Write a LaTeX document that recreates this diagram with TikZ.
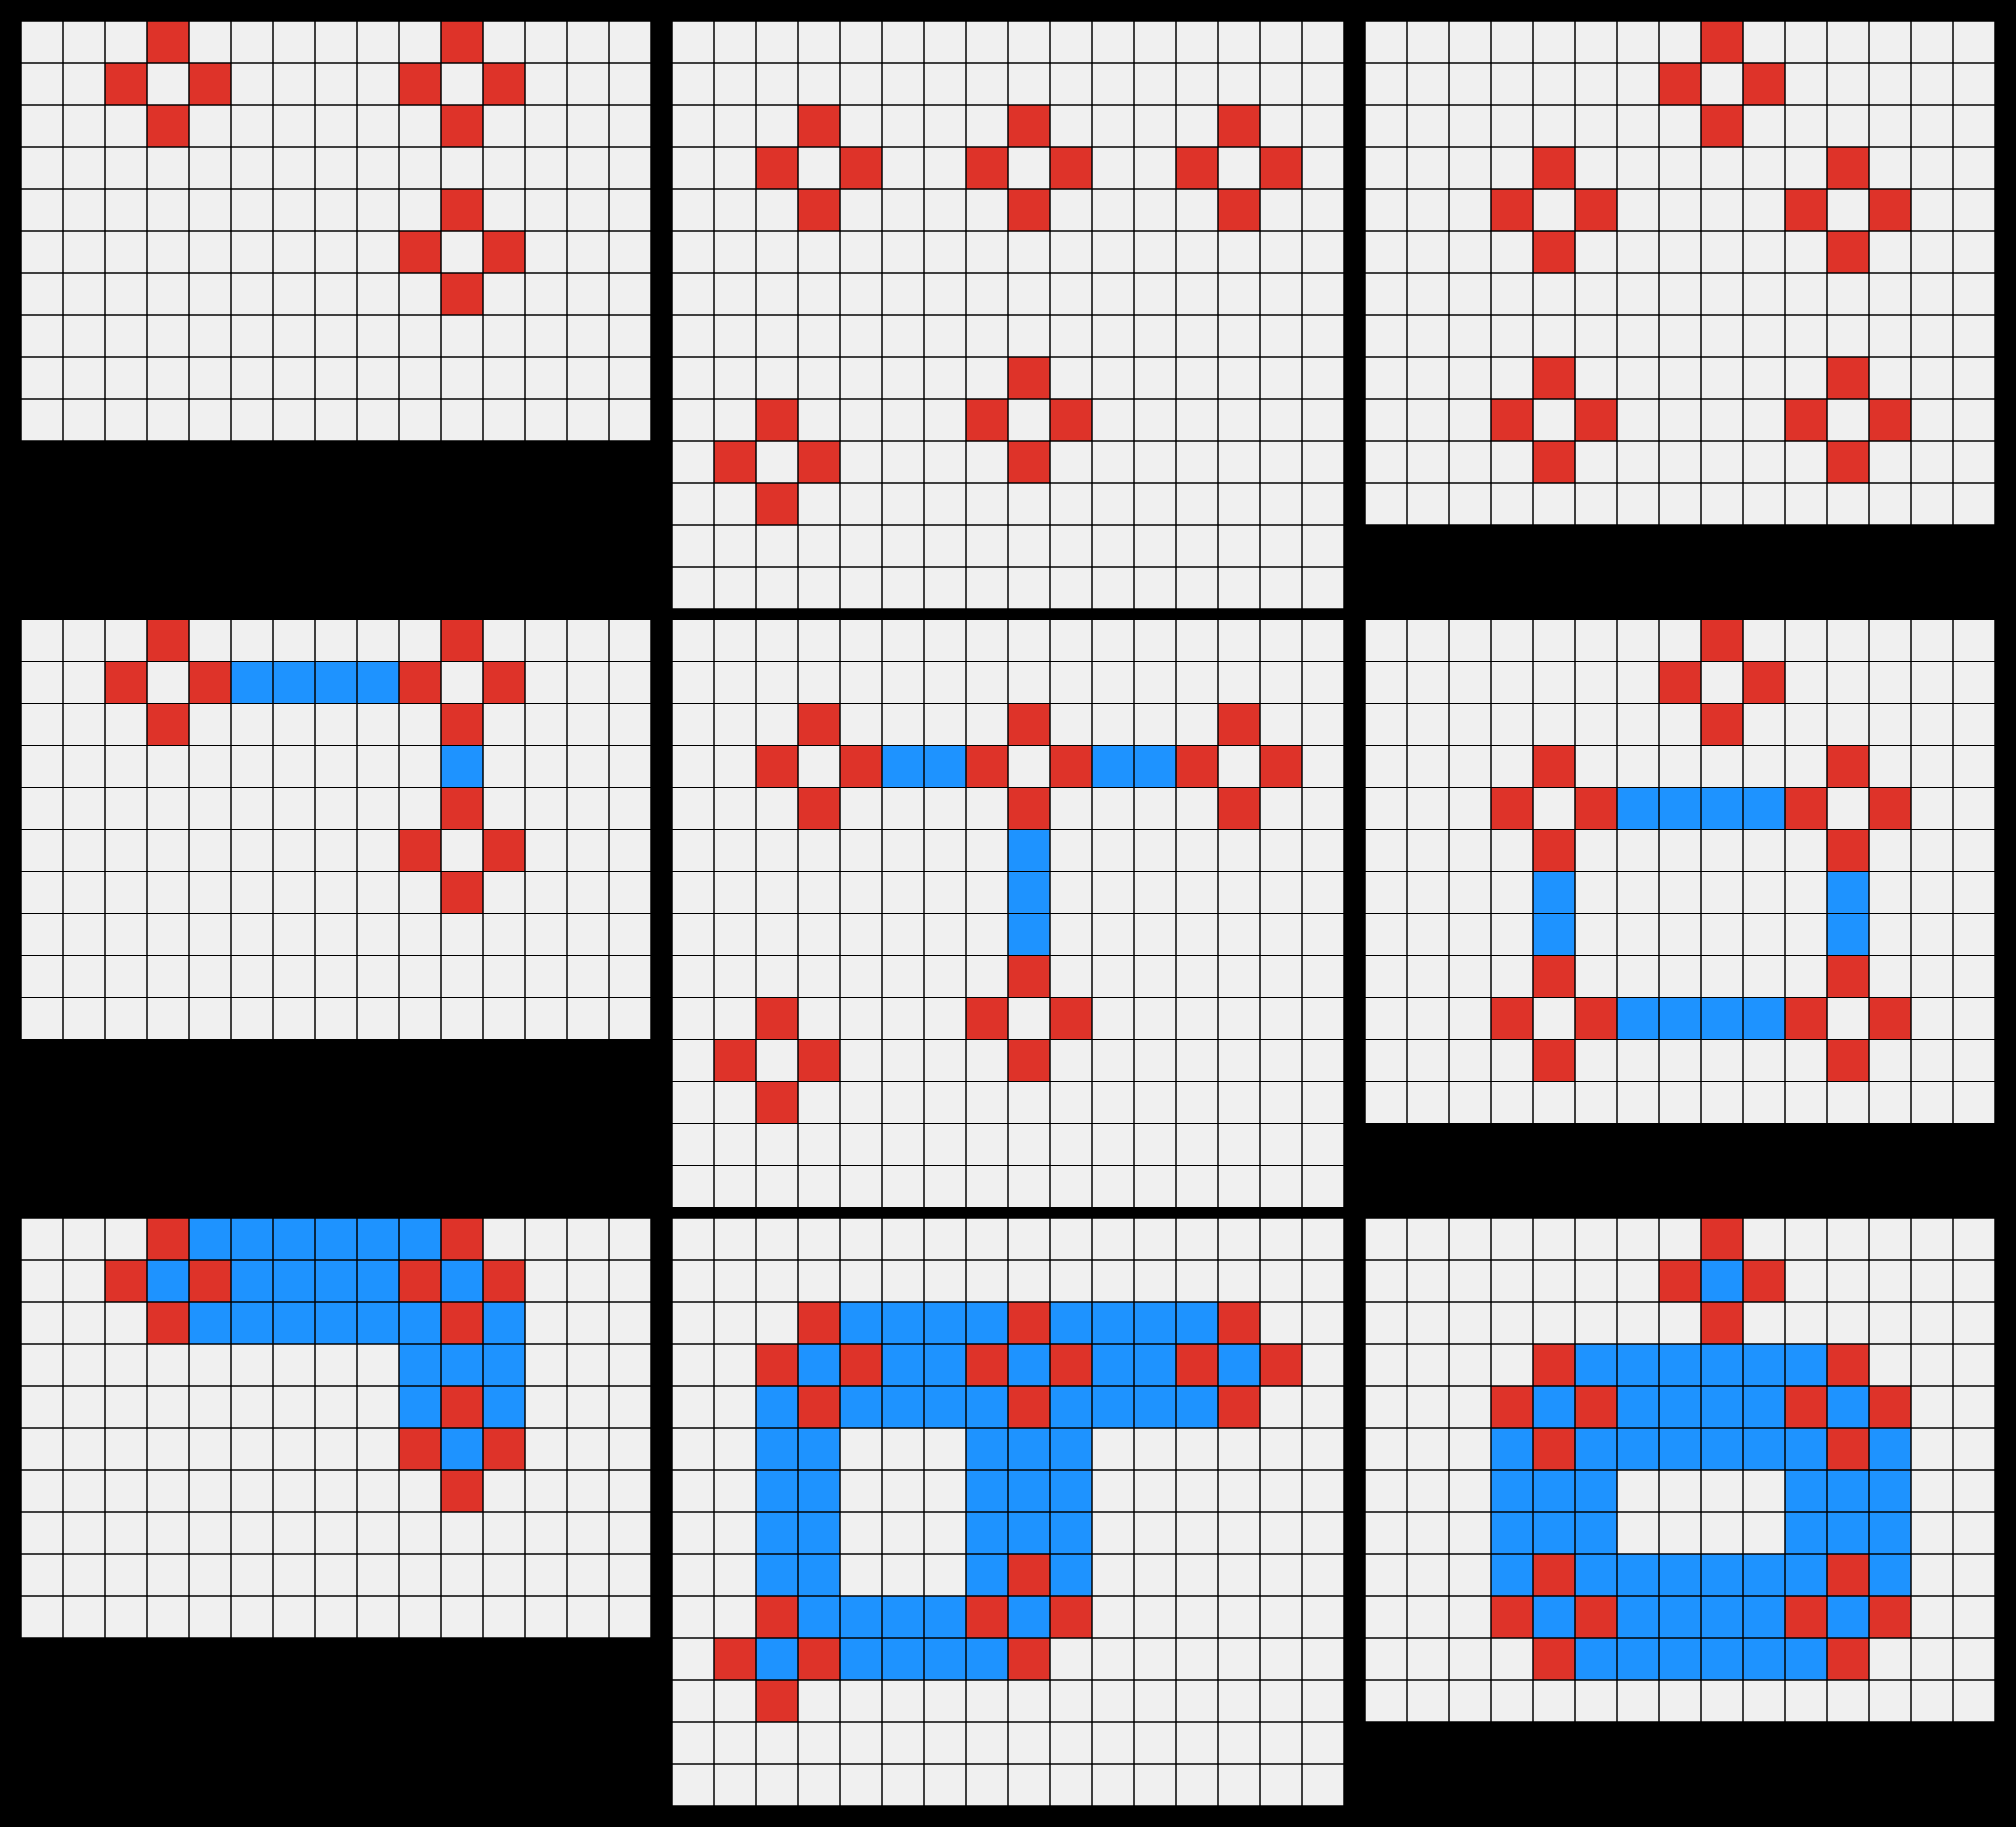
\documentclass[tikz,border=0pt]{standalone}
\usepackage{tikz}

\definecolor{cellbg}{HTML}{F0F0F0}
\definecolor{cellred}{HTML}{DE3329}
\definecolor{cellblue}{HTML}{1E93FF}

% red diamond around centre cell (c,r)
\newcommand{\gem}[2]{\fill[cellred] (#1,#2-1) rectangle ++(1,1) (#1-1,#2) rectangle ++(1,1)
  (#1+1,#2) rectangle ++(1,1) (#1,#2+1) rectangle ++(1,1);}
% blue block, columns c1..c2, rows r1..r2
\newcommand{\fillband}[4]{\fill[cellblue] (#1,#3) rectangle (#2+1,#4+1);}

\def\gemsA{3/1,10/1,10/5}
\def\gemsB{3/3,8/3,13/3,8/9,2/10}
\def\gemsC{8/1,4/4,11/4,4/9,11/9}

\begin{document}
\begin{tikzpicture}[x=1cm,y=1cm,
    cellgrid/.style={black,line width=1.1pt},
    board/.style={yscale=-1}]

  \fill[black] (0,0) rectangle (48,-43.5);

  % row 1: inputs
  \begin{scope}[shift={(0.5,-0.5)},board]
    \fill[cellbg] (0,0) rectangle (15,10);
    \foreach \c/\r in \gemsA {\gem{\c}{\r}}
    \draw[cellgrid] (0,0) grid (15,10);
  \end{scope}
  \begin{scope}[shift={(16,-0.5)},board]
    \fill[cellbg] (0,0) rectangle (16,14);
    \foreach \c/\r in \gemsB {\gem{\c}{\r}}
    \draw[cellgrid] (0,0) grid (16,14);
  \end{scope}
  \begin{scope}[shift={(32.5,-0.5)},board]
    \fill[cellbg] (0,0) rectangle (15,12);
    \foreach \c/\r in \gemsC {\gem{\c}{\r}}
    \draw[cellgrid] (0,0) grid (15,12);
  \end{scope}

  % row 2: links
  \begin{scope}[shift={(0.5,-14.75)},board]
    \fill[cellbg] (0,0) rectangle (15,10);
    \fillband{5}{8}{1}{1} \fillband{10}{10}{3}{3}
    \foreach \c/\r in \gemsA {\gem{\c}{\r}}
    \draw[cellgrid] (0,0) grid (15,10);
  \end{scope}
  \begin{scope}[shift={(16,-14.75)},board]
    \fill[cellbg] (0,0) rectangle (16,14);
    \fillband{5}{6}{3}{3} \fillband{10}{11}{3}{3} \fillband{8}{8}{5}{7}
    \foreach \c/\r in \gemsB {\gem{\c}{\r}}
    \draw[cellgrid] (0,0) grid (16,14);
  \end{scope}
  \begin{scope}[shift={(32.5,-14.75)},board]
    \fill[cellbg] (0,0) rectangle (15,12);
    \fillband{6}{9}{4}{4} \fillband{6}{9}{9}{9}
    \fillband{4}{4}{6}{7} \fillband{11}{11}{6}{7}
    \foreach \c/\r in \gemsC {\gem{\c}{\r}}
    \draw[cellgrid] (0,0) grid (15,12);
  \end{scope}

  % row 3: filled
  \begin{scope}[shift={(0.5,-29)},board]
    \fill[cellbg] (0,0) rectangle (15,10);
    \fillband{3}{10}{0}{2} \fillband{9}{11}{1}{5}
    \foreach \c/\r in \gemsA {\gem{\c}{\r}}
    \draw[cellgrid] (0,0) grid (15,10);
  \end{scope}
  \begin{scope}[shift={(16,-29)},board]
    \fill[cellbg] (0,0) rectangle (16,14);
    \fillband{3}{13}{2}{4} \fillband{7}{9}{2}{9}
    \fillband{2}{3}{4}{10} \fillband{2}{7}{9}{10}
    \foreach \c/\r in \gemsB {\gem{\c}{\r}}
    \draw[cellgrid] (0,0) grid (16,14);
  \end{scope}
  \begin{scope}[shift={(32.5,-29)},board]
    \fill[cellbg] (0,0) rectangle (15,12);
    \fillband{8}{8}{1}{1}
    \fillband{4}{11}{3}{5} \fillband{4}{11}{8}{10}
    \fillband{3}{5}{4}{9} \fillband{10}{12}{4}{9}
    \foreach \c/\r in \gemsC {\gem{\c}{\r}}
    \draw[cellgrid] (0,0) grid (15,12);
  \end{scope}
\end{tikzpicture}
\end{document}
